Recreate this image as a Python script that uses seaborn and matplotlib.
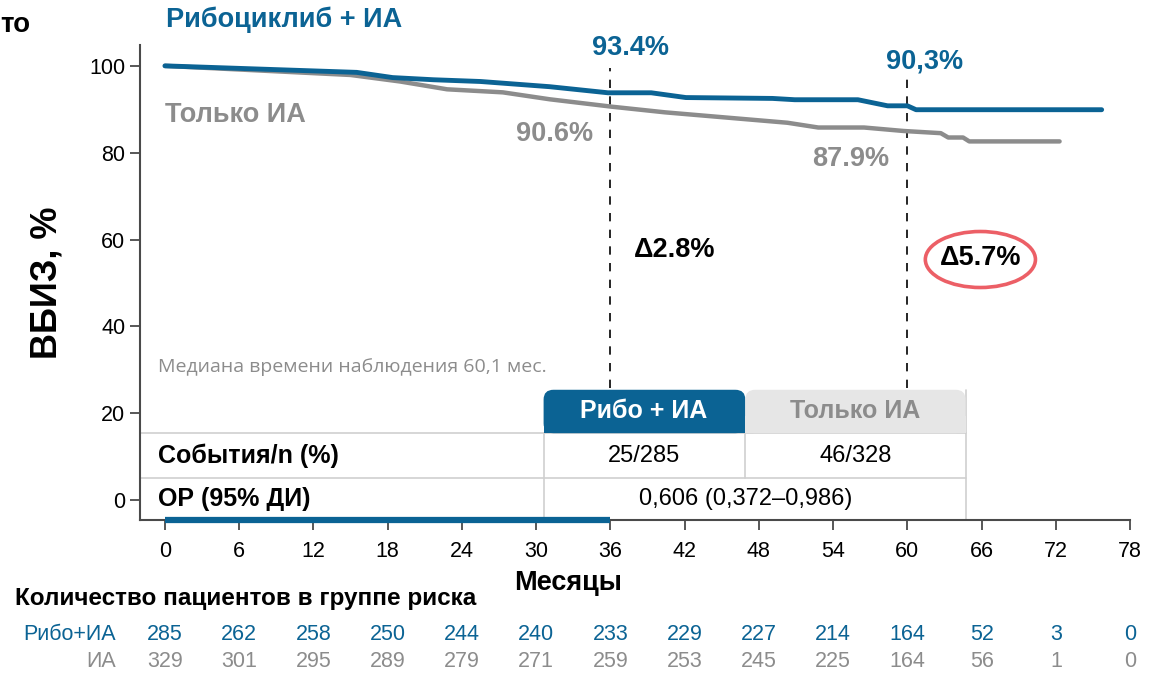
import numpy as np
import pandas as pd
import matplotlib
matplotlib.use("Agg")
import matplotlib.pyplot as plt
import matplotlib.transforms as mtransforms
from matplotlib.patches import Ellipse, FancyBboxPatch, Rectangle
import seaborn as sns

# ── Data ──────────────────────────────────────────────────────────────────────
RIBO_MONTHS = [0, 15.5, 18.4, 21.7, 25.5, 31.1, 35.8, 39.3, 42.1, 49.1, 50.9,
               56.0, 58.4, 60.0, 60.7, 75.7]
RIBO_SURV = [100, 98.5, 97.3, 96.8, 96.4, 95.2, 93.8, 93.8, 92.7, 92.5, 92.2,
             92.2, 90.8, 90.8, 89.9, 89.9]
AI_MONTHS = [0, 15.0, 19.0, 22.8, 27.3, 31.1, 36.1, 40.4, 50.3, 52.8, 56.5,
             59.7, 62.7, 63.3, 64.5, 65.0, 72.3]
AI_SURV = [100, 97.9, 96.4, 94.6, 93.9, 92.3, 90.6, 89.3, 86.9, 85.8, 85.8,
           85.0, 84.5, 83.5, 83.5, 82.6, 82.6]

RISK_MONTHS = list(range(0, 79, 6))
RISK_RIBO = [285, 262, 258, 250, 244, 240, 233, 229, 227, 214, 164, 52, 3, 0]
RISK_AI = [329, 301, 295, 289, 279, 271, 259, 253, 245, 225, 164, 56, 1, 0]

LANDMARKS = [36, 60]
RIBO_LABELS = ["93.4%", "90,3%"]
AI_LABELS = ["90.6%", "87.9%"]
DELTA_LABELS = ["Δ2.8%", "Δ5.7%"]

TABLE_HEAD = ["Рибо + ИА", "Только ИА"]
EVENTS = ["25/285", "46/328"]
HR_TEXT = "0,606 (0,372–0,986)"

BLUE = "#0b6394"
GRAY = "#8c8c8c"
DARK = "#4a4a4a"
FONT = ["Liberation Sans", "DejaVu Sans"]

sns.set_theme(style="ticks")
plt.rcParams["font.family"] = FONT
plt.rcParams["text.color"] = "black"
plt.rcParams["axes.labelcolor"] = "black"

df = pd.concat([
    pd.DataFrame({"month": RIBO_MONTHS, "surv": RIBO_SURV, "arm": "ribo"}),
    pd.DataFrame({"month": AI_MONTHS, "surv": AI_SURV, "arm": "ai"}),
])

fig = plt.figure(figsize=(11.52, 6.75), dpi=100)
ax = fig.add_axes([0.1215, 0.2296, 0.8595, 0.7037])

sns.lineplot(data=df, x="month", y="surv", hue="arm", hue_order=["ai", "ribo"],
             palette={"ribo": BLUE, "ai": GRAY}, estimator=None, sort=False,
             legend=False, ax=ax, linewidth=3.5, zorder=3)
ax.lines[0].set_linewidth(3.2)

ax.set_xlim(-2.02, 78)
ax.set_ylim(-4.6, 104.8)
ax.set_xticks(RISK_MONTHS)
ax.set_yticks([0, 20, 40, 60, 80, 100])
ax.tick_params(axis="both", labelsize=15.5, length=7, width=1.3, color=DARK,
               labelcolor="black")
ax.tick_params(axis="x", pad=8)
for s in ["top", "right"]:
    ax.spines[s].set_visible(False)
for s in ["left", "bottom"]:
    ax.spines[s].set_color(DARK)
    ax.spines[s].set_linewidth(1.5)
ax.set_xlabel("")
ax.set_ylabel("ВБИЗ, %", fontsize=26, fontweight="bold")
ax.yaxis.set_label_coords(-0.0758, 0.5)

# treatment duration bar on the x axis
ax.plot([0, 36], [-4.6, -4.6], color=BLUE, lw=4.5, solid_capstyle="butt",
        clip_on=False, zorder=4)

# landmark dashed lines and labels
for m, top in zip(LANDMARKS, [99.5, 97.5]):
    ax.plot([m, m], [25.8, top], color="black", lw=1.2, ls=(0, (5, 5)), zorder=2)

LBL = dict(fontsize=19.5, fontweight="bold", ha="center", va="center")
ax.text(37.6, 104.1, RIBO_LABELS[0], color=BLUE, **LBL)
ax.text(61.4, 100.9, RIBO_LABELS[1], color=BLUE, **LBL)
ax.text(31.5, 84.3, AI_LABELS[0], color=GRAY, **LBL)
ax.text(55.4, 78.6, AI_LABELS[1], color=GRAY, **LBL)
ax.text(41.2, 57.6, DELTA_LABELS[0], color="black", **LBL)
ax.text(65.9, 55.8, DELTA_LABELS[1], color="black", **LBL)
ax.add_patch(Ellipse((65.9, 55.4), 8.9, 12.9, fill=False, ec="#ec5f66", lw=2.6))

ax.text(0, 88.6, "Только ИА", color=GRAY, fontsize=19.5, fontweight="bold",
        ha="left", va="center")
ax.text(-0.6, 30.6, "Медиана времени наблюдения 60,1 мес.", color=GRAY,
        fontsize=14, family=["Open Sans", "DejaVu Sans"], ha="left", va="center")

# ── summary table inside the axes ─────────────────────────────────────────────
LINE = "#cfcfcf"
ax.add_patch(FancyBboxPatch((30.6, 15.4), 16.3, 10.0,
                            boxstyle="round,pad=0,rounding_size=0.8",
                            fc=BLUE, ec="none", zorder=2, mutation_aspect=2.8))
ax.add_patch(Rectangle((30.6, 15.4), 16.3, 4, fc=BLUE, ec="none", zorder=2))
ax.add_patch(FancyBboxPatch((46.9, 15.4), 17.8, 10.0,
                            boxstyle="round,pad=0,rounding_size=0.8",
                            fc="#e6e6e6", ec="none", zorder=2, mutation_aspect=2.8))
ax.add_patch(Rectangle((46.9, 15.4), 17.8, 4, fc="#e6e6e6", ec="none", zorder=2))
ax.text(38.7, 20.6, TABLE_HEAD[0], color="white", fontsize=18, fontweight="bold",
        ha="center", va="center", zorder=3)
ax.text(55.8, 20.6, TABLE_HEAD[1], color=GRAY, fontsize=18, fontweight="bold",
        ha="center", va="center", zorder=3)

ax.plot([-2.02, 64.7], [15.4, 15.4], color=LINE, lw=1.2, zorder=1)
ax.plot([-2.02, 64.7], [5.1, 5.1], color=LINE, lw=1.2, zorder=1)
ax.plot([30.6, 30.6], [-4.6, 15.4], color=LINE, lw=1.2, zorder=1)
ax.plot([46.9, 46.9], [5.1, 15.4], color=LINE, lw=1.2, zorder=1)
ax.plot([64.7, 64.7], [-4.6, 25.4], color=LINE, lw=1.2, zorder=1)

ax.text(-0.6, 10.1, "События/n (%)", fontsize=18, fontweight="bold",
        ha="left", va="center")
ax.text(-0.6, 0.2, "ОР (95% ДИ)", fontsize=18, fontweight="bold",
        ha="left", va="center")
ax.text(38.7, 10.1, EVENTS[0], fontsize=17, ha="center", va="center")
ax.text(55.8, 10.1, EVENTS[1], fontsize=17, ha="center", va="center")
ax.text(46.9, 0.2, HR_TEXT, fontsize=17, ha="center", va="center")

# ── texts outside the axes ────────────────────────────────────────────────────
fig.text(0.144, 0.970, "Рибоциклиб + ИА", color=BLUE, fontsize=19.5,
         fontweight="bold", ha="left", va="center")
fig.text(0.0, 0.963, "то", color="black", fontsize=20, fontweight="bold",
         ha="left", va="center")

blend = mtransforms.blended_transform_factory(ax.transData, fig.transFigure)
ax.text(32.6, 0.136, "Месяцы", transform=blend, fontsize=19.5, fontweight="bold",
        ha="center", va="center")
fig.text(0.013, 0.114, "Количество пациентов в группе риска", fontsize=17.5,
         fontweight="bold", ha="left", va="center")

ax.text(-3.96, 0.060, "Рибо+ИА", transform=blend, color=BLUE, fontsize=15.5,
        ha="right", va="center")
ax.text(-3.96, 0.0195, "ИА", transform=blend, color=GRAY, fontsize=15.5,
        ha="right", va="center")
for m, r, a in zip(RISK_MONTHS, RISK_RIBO, RISK_AI):
    ax.text(m, 0.060, str(r), transform=blend, color=BLUE, fontsize=15.5,
            ha="center", va="center")
    ax.text(m, 0.0195, str(a), transform=blend, color=GRAY, fontsize=15.5,
            ha="center", va="center")

fig.savefig("out.png", dpi=100)
